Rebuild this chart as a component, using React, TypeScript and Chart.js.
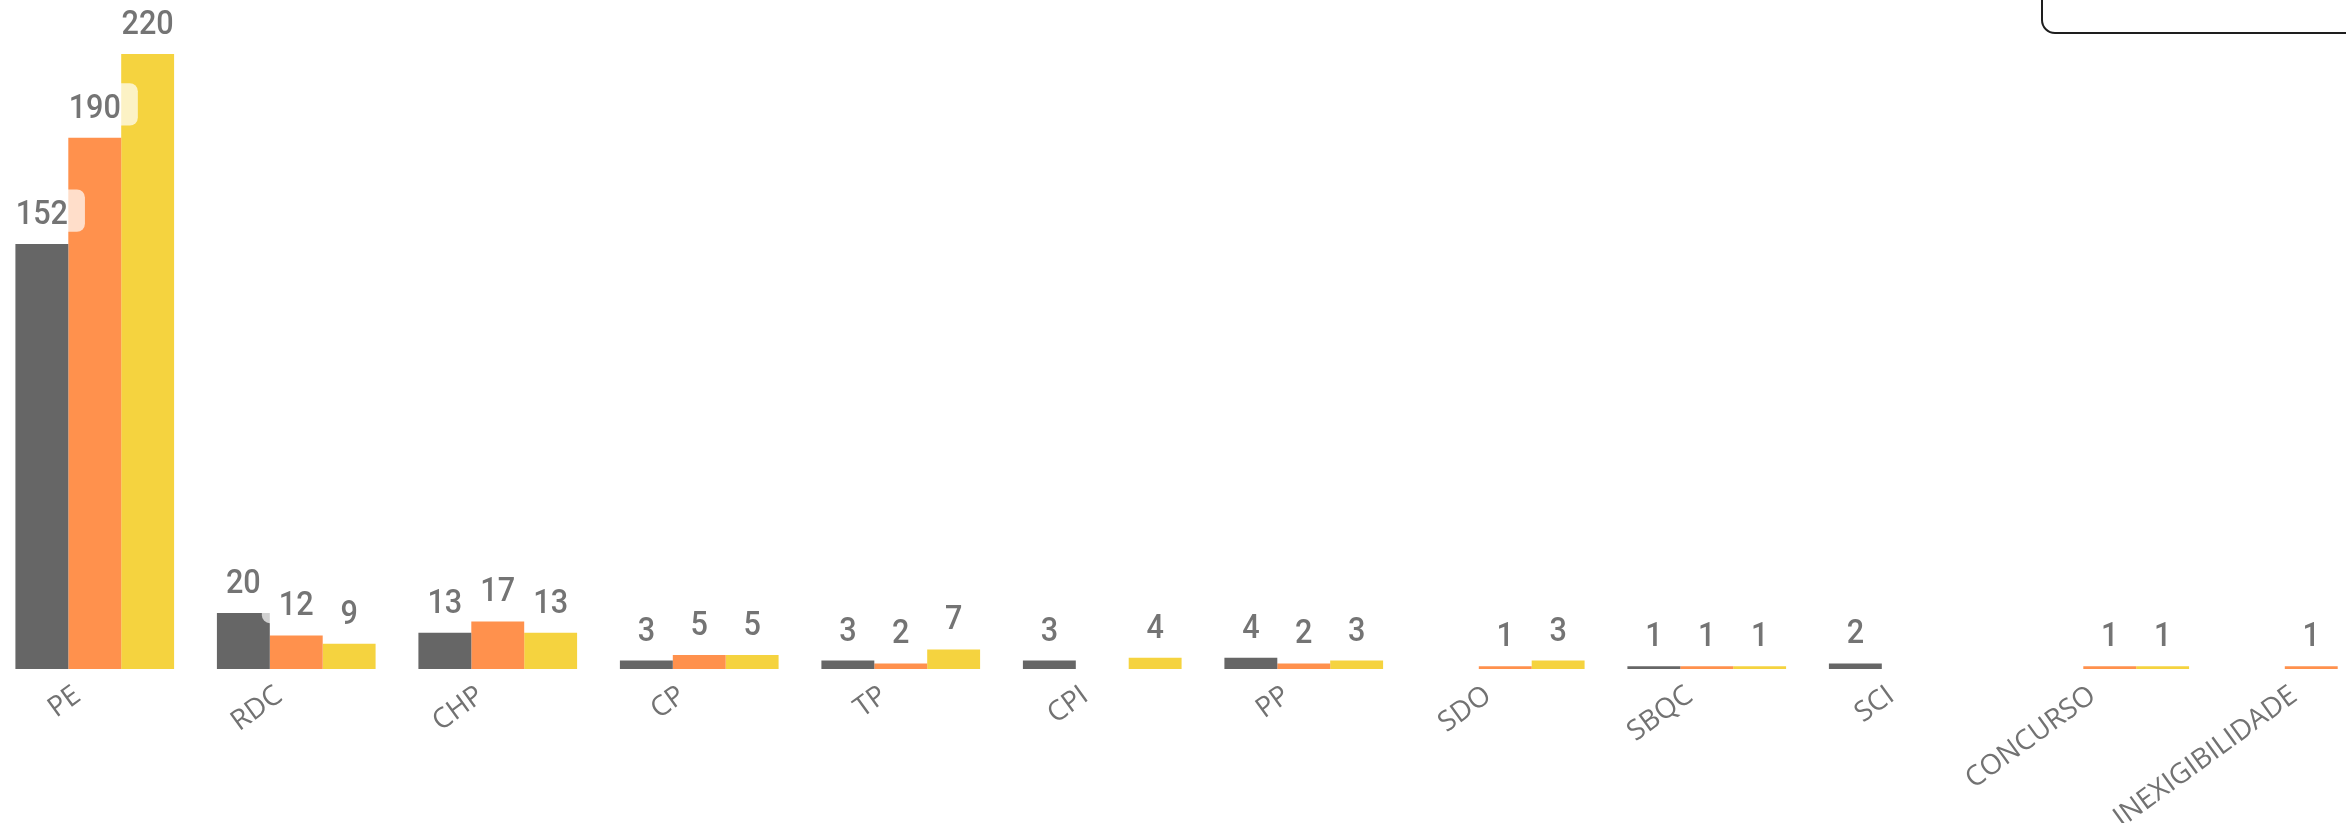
import React, { useEffect, useRef } from "react";
import { Chart, registerables } from "chart.js";

Chart.register(...registerables);

const categories = ["PE", "RDC", "CHP", "CP", "TP", "CPI", "PP", "SDO", "SBQC", "SCI", "CONCURSO", "INEXIGIBILIDADE"];
const seriesNames = ["Série 1", "Série 2", "Série 3"];
const seriesA = [152, 20, 13, 3, 3, 3, 4, null, 1, 2, null, null];
const seriesB = [190, 12, 17, 5, 2, null, 2, 1, 1, null, 1, 1];
const seriesC = [220, 9, 13, 5, 7, 4, 3, 3, 1, null, 1, null];
const seriesColors = ["#666666", "#FF914D", "#F5D33F"];
const yMax = 220;

const valueLabelPlugin = {
  id: "valueLabels",
  afterDatasetsDraw(chart: any) {
    const ctx = chart.ctx as CanvasRenderingContext2D;
    ctx.save();
    ctx.font = "500 34px Roboto";
    const sx = 0.9;
    chart.data.datasets.forEach((ds: any, di: number) => {
      const meta = chart.getDatasetMeta(di);
      meta.data.forEach((el: any, i: number) => {
        const v = ds.data[i];
        if (v == null) return;
        const text = String(v);
        const tw = ctx.measureText(text).width * sx;
        const cx = el.x;
        const base = el.y - 20;
        ctx.fillStyle = "rgba(255,255,255,0.7)";
        ctx.beginPath();
        (ctx as any).roundRect(cx - tw / 2 - 17, base - 34.7, tw + 34, 42.4, 8);
        ctx.fill();
        ctx.save();
        ctx.translate(cx, base);
        ctx.scale(sx, 1);
        ctx.fillStyle = "#747474";
        ctx.textAlign = "center";
        ctx.textBaseline = "alphabetic";
        ctx.fillText(text, 0, 0);
        ctx.restore();
      });
    });
    ctx.restore();
  },
};

export default function App() {
  const ref = useRef<HTMLCanvasElement>(null);
  useEffect(() => {
    const chart = new Chart(ref.current as HTMLCanvasElement, {
      type: "bar",
      data: {
        labels: categories,
        datasets: [seriesA, seriesB, seriesC].map((d, k) => ({
          label: seriesNames[k],
          data: d,
          backgroundColor: seriesColors[k],
          borderWidth: 0,
          categoryPercentage: 0.7875,
          barPercentage: 1,
        })),
      },
      options: {
        responsive: false,
        devicePixelRatio: 1,
        animation: false,
        layout: { padding: { top: 54, left: 0, right: 0, bottom: 0 } },
        plugins: { legend: { display: false }, tooltip: { enabled: false } },
        scales: {
          x: {
            grid: { display: false },
            border: { display: false },
            ticks: {
              color: "#727272",
              font: { family: "'Open Sans'", size: 28 },
              minRotation: 36,
              maxRotation: 36,
              autoSkip: false,
              padding: 2,
              labelOffset: -17,
            },
            afterFit: (scale: any) => {
              scale.height = 154;
            },
          },
          y: { display: false, min: 0, max: yMax },
        },
      },
      plugins: [valueLabelPlugin],
    } as any);
    return () => chart.destroy();
  }, []);
  return (
    <div
      style={{
        position: "fixed",
        left: 0,
        top: 0,
        width: 2346,
        height: 823,
        overflow: "hidden",
        background: "#ffffff",
      }}
    >
      <canvas
        ref={ref}
        width={2418}
        height={823}
        style={{ position: "absolute", left: -6, top: 0, width: 2418, height: 823, display: "block" }}
      />
      <div
        style={{
          position: "absolute",
          left: 2041,
          top: -100,
          width: 400,
          height: 134,
          border: "2px solid #1e1e1e",
          borderRadius: 14,
          boxSizing: "border-box",
        }}
      />
    </div>
  );
}
